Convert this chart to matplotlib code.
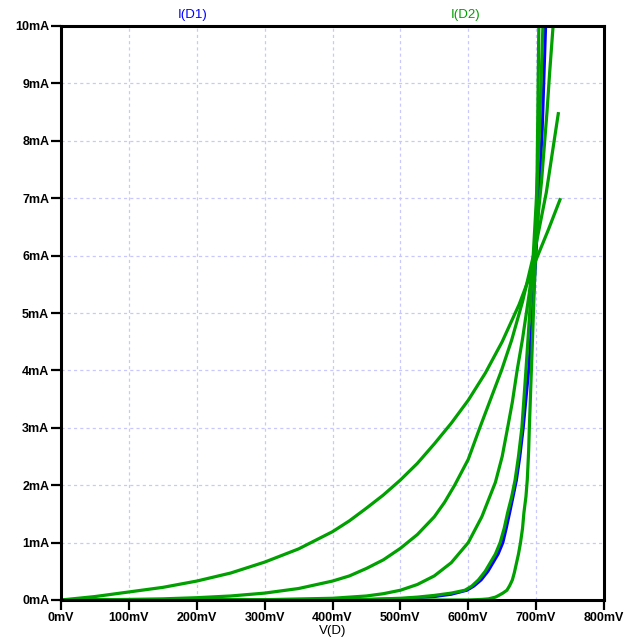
import matplotlib
matplotlib.use("Agg")
import matplotlib.pyplot as plt
from matplotlib.ticker import FuncFormatter

# ---- data (V in mV, I in mA) ----
vA = [0, 50, 100, 150, 200, 250, 300, 350, 400, 425, 450, 475, 500, 525, 550, 575,
      600, 625, 650, 675, 700, 718, 736]
iA = [0, 0.06, 0.14, 0.22, 0.33, 0.47, 0.66, 0.89, 1.19, 1.38, 1.6, 1.83, 2.09, 2.38,
      2.72, 3.08, 3.48, 3.95, 4.5, 5.15, 5.93, 6.45, 7.0]

vB = [0, 100, 150, 200, 250, 300, 350, 400, 425, 450, 475, 500, 525, 550, 565, 580,
      600, 617, 633, 649, 664, 680, 700, 715, 733]
iB = [0, 0.01, 0.02, 0.04, 0.07, 0.12, 0.2, 0.33, 0.42, 0.55, 0.7, 0.9, 1.14, 1.45,
      1.7, 2.0, 2.45, 3.0, 3.5, 4.0, 4.53, 5.2, 6.2, 7.1, 8.5]

vC = [0, 300, 400, 450, 475, 500, 525, 550, 575, 600, 620, 640, 650, 658, 665, 672,
      680, 690, 700, 708, 716, 720, 725]
iC = [0, 0.005, 0.03, 0.07, 0.11, 0.17, 0.27, 0.42, 0.65, 1.0, 1.45, 2.05, 2.5, 3.0,
      3.45, 4.0, 4.55, 5.35, 6.35, 7.3, 8.5, 9.2, 10.0]

vD = [0, 450, 500, 525, 550, 575, 595, 605, 615, 625, 632, 640, 647, 653, 658, 664,
      669, 674, 679, 682, 685, 690, 695, 700, 705, 710]
iD = [0, 0.01, 0.03, 0.05, 0.08, 0.12, 0.17, 0.24, 0.35, 0.5, 0.64, 0.8, 1.0, 1.25,
      1.52, 1.8, 2.09, 2.5, 3.0, 3.5, 4.0, 4.9, 5.85, 6.9, 8.2, 10.0]

vE = [0, 600, 620, 630, 640, 645, 651, 657, 661, 665, 668, 671, 674, 677, 680, 682,
      685, 687, 689, 690, 693, 696, 699, 701, 702.5, 704]
iE = [0, 0.0, 0.01, 0.02, 0.05, 0.08, 0.12, 0.17, 0.25, 0.35, 0.48, 0.64, 0.8, 1.0,
      1.25, 1.52, 1.8, 2.1, 2.6, 3.0, 4.0, 5.0, 6.0, 7.0, 8.5, 10.0]

# D1 (blue)
v1 = [0, 450, 500, 525, 550, 575, 598, 608, 619, 629, 636, 644, 651, 656, 661, 666,
      671, 676, 681, 685, 689, 694, 699, 704, 709, 714]
i1 = [0, 0.008, 0.02, 0.04, 0.06, 0.1, 0.17, 0.24, 0.35, 0.5, 0.64, 0.8, 1.0, 1.25,
      1.52, 1.8, 2.09, 2.5, 3.0, 3.5, 4.0, 4.9, 5.85, 7.0, 8.2, 10.0]

d2_curves = [(vA, iA), (vB, iB), (vC, iC), (vD, iD), (vE, iE)]

x_ticks = [0, 100, 200, 300, 400, 500, 600, 700, 800]
y_ticks = [0, 1, 2, 3, 4, 5, 6, 7, 8, 9, 10]

GREEN = "#00a000"
BLUE = "#0000ff"
GRID = "#c8c8ff"

plt.rcParams["font.family"] = ["Liberation Sans", "DejaVu Sans"]

fig = plt.figure(figsize=(6.37, 6.43), dpi=100)
ax = fig.add_axes([61 / 637, 1 - 600 / 643, (604 - 61) / 637, (600 - 26) / 643])

ax.plot(v1, i1, color=BLUE, lw=2.2, zorder=2, solid_capstyle="butt",
        solid_joinstyle="round")
for v, i in d2_curves:
    ax.plot(v, i, color=GREEN, lw=2.3, zorder=3, solid_capstyle="butt",
            solid_joinstyle="round")

ax.set_xlim(0, 800)
ax.set_ylim(0, 10)
ax.set_xticks(x_ticks)
ax.set_yticks(y_ticks)
ax.xaxis.set_major_formatter(FuncFormatter(lambda v, p: f"{int(round(v))}mV"))
ax.yaxis.set_major_formatter(FuncFormatter(lambda v, p: f"{int(round(v))}mA"))

ax.grid(True, color=GRID, lw=0.9, linestyle=(0, (2.5, 2.5)), zorder=1)
for s in ax.spines.values():
    s.set_linewidth(2.2)
    s.set_color("black")
    s.set_zorder(5)

ax.tick_params(axis="both", direction="out", length=7, width=1.6, color="black",
               labelsize=9, pad=1.5)
for lab in ax.get_xticklabels() + ax.get_yticklabels():
    lab.set_fontweight("bold")

ax.set_xlabel("V(D)", fontsize=9.5, labelpad=1)

fig.text(193 / 637, 1 - 15 / 643, "I(D1)", color=BLUE, fontsize=9.5,
         ha="center", va="center")
fig.text(466 / 637, 1 - 15 / 643, "I(D2)", color=GREEN, fontsize=9.5,
         ha="center", va="center")

fig.savefig("out.png", dpi=100, facecolor="white")
